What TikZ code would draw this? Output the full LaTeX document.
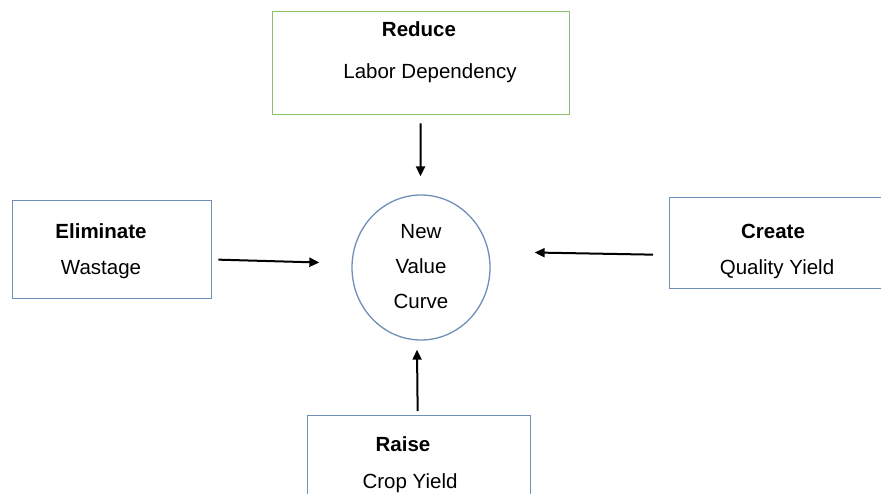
\documentclass[tikz,border=0pt]{standalone}
\usepackage{fontspec}
\setmainfont{Liberation Sans}
\usetikzlibrary{arrows.meta,calc,shapes.geometric}
\definecolor{boxgreen}{HTML}{8CC06A}
\definecolor{boxblue}{HTML}{6F8FB8}
\tikzset{
  box/.style={draw, line width=1.3pt, inner sep=0pt, anchor=north west},
  lbl/.style={inner sep=0pt, anchor=base, font=\fontsize{20.5}{24}\selectfont},
  head/.style={lbl, font=\fontsize{20.5}{24}\selectfont\bfseries},
  flow/.style={line width=2pt, -{Triangle[length=10pt,width=9pt]}}
}
\begin{document}
\begin{tikzpicture}[x=1pt,y=-1pt]
  \useasboundingbox (0,0) rectangle (881,493);
  \clip (0,0) rectangle (881,493);
  \fill[white] (0,0) rectangle (881,493);
  % strategy boxes
  \node[box, draw=boxgreen, minimum width=297pt, minimum height=103pt] (red) at (272,11) {};
  \node[box, draw=boxblue, minimum width=199pt, minimum height=98pt] (elim) at (12,200) {};
  \node[box, draw=boxblue, minimum width=230pt, minimum height=91pt] (crea) at (669,197) {};
  \node[box, draw=boxblue, minimum width=223pt, minimum height=110pt] (rais) at (307,415) {};
  % central value curve
  \node[draw=boxblue, line width=1.3pt, ellipse, minimum width=138pt, minimum height=145pt, inner sep=0pt] (val) at (421,267.5) {};
  % labels
  \node[head] (redh) at (419,36) {Reduce};
  \node[lbl] (redt) at (430,78) {Labor Dependency};
  \node[head] (elimh) at (101,238) {Eliminate};
  \node[lbl] (elimt) at (101,274) {Wastage};
  \node[head] (creah) at (773,238) {Create};
  \node[lbl] (creat) at (777,274) {Quality Yield};
  \node[head] (raish) at (403,451) {Raise};
  \node[lbl] (raist) at (410,488) {Crop Yield};
  \node[lbl] (v1) at (421,238) {New};
  \node[lbl] (v2) at (421,273) {Value};
  \node[lbl] (v3) at (421,308) {Curve};
  % connectors into the value curve
  \draw[flow] ($(red.south)+(-0.5,8)$) -- ($(val.north)+(-0.5,-18)$);
  \draw[flow] ($(elim.east)+(6,10)$) -- ($(val.west)+(-32,-5)$);
  \draw[flow] ($(crea.west)+(-16,11.5)$) -- ($(val.east)+(44,-15)$);
  \draw[flow] ($(rais.north)+(-1.5,-4)$) -- ($(val.south)+(-4,9)$);
\end{tikzpicture}
\end{document}
